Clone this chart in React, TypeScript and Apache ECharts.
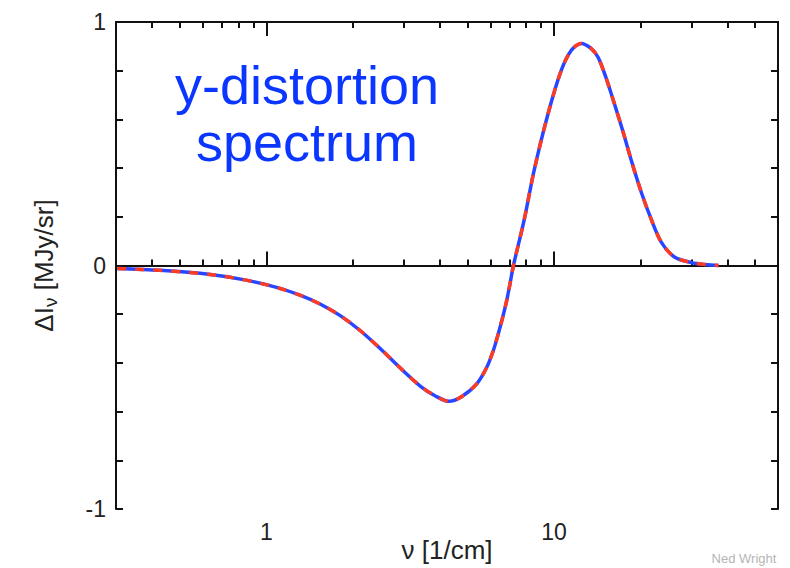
import React, { useEffect, useRef } from "react";
import * as echarts from "echarts";

// frequency nu [1/cm] and intensity change dI [MJy/sr]
const nu = [0.303, 0.427, 0.638, 0.832, 1.092, 1.314, 1.542, 1.811, 2.126, 2.496, 2.931, 3.441, 3.88, 4.307, 4.75, 5.383, 5.832, 6.148, 6.397, 6.627, 6.842, 7.025, 7.22, 7.862, 8.518, 9.531, 10.578, 11.462, 12.42, 13.46, 14.23, 15.18, 16.19, 17.39, 18.55, 20.1, 21.78, 23.6, 26.19, 30.02, 33.5, 37.27];
const dI = [-0.012, -0.02, -0.037, -0.058, -0.091, -0.123, -0.159, -0.207, -0.269, -0.343, -0.423, -0.497, -0.537, -0.558, -0.54, -0.486, -0.418, -0.349, -0.28, -0.212, -0.144, -0.075, 0.0, 0.185, 0.39, 0.624, 0.8, 0.883, 0.912, 0.891, 0.854, 0.768, 0.665, 0.546, 0.431, 0.3, 0.188, 0.095, 0.035, 0.012, 0.004, 0.0];

const majorTicksX = [1, 10];
const minorTicksX = [0.4, 0.5, 0.6, 0.7, 0.8, 0.9, 2, 3, 4, 5, 6, 7, 8, 9, 20, 30, 40, 50];
const yLabelValues = [-1, 0, 1];

const titleLines = ["y-distortion", "spectrum"];
const credit = "Ned Wright";

const FONT = "'Liberation Sans', Arial, Helvetica, sans-serif";

export default function App() {
  const ref = useRef<HTMLDivElement>(null);
  useEffect(() => {
    if (!ref.current) return;
    const chart = echarts.init(ref.current, null, { renderer: "svg" });
    const points = nu.map((x, i) => [x, dI[i]]);
    const xBase = {
      type: "log" as const,
      min: 0.3,
      max: 60,
      gridIndex: 0,
      splitLine: { show: false },
      axisLine: { show: true, lineStyle: { color: "#111", width: 2 } },
    };
    const option: any = {
      animation: false,
      backgroundColor: "#fff",
      textStyle: { fontFamily: FONT },
      grid: { left: 116, right: 12, top: 22, bottom: 59, show: false, containLabel: false, outerBoundsMode: "none" },
      xAxis: [
        {
          ...xBase,
          position: "bottom",
          axisTick: { show: true, inside: true, length: 14, customValues: majorTicksX, lineStyle: { color: "#111", width: 2 } },
          axisLabel: { show: true, customValues: majorTicksX, fontSize: 23, color: "#222", margin: 11, fontFamily: FONT },
          name: "ν [1/cm]",
          nameLocation: "middle",
          nameGap: 28,
          nameMoveOverlap: false,
          nameTextStyle: { fontSize: 26, color: "#222", fontFamily: FONT },
        },
        {
          ...xBase,
          position: "bottom",
          axisTick: { show: true, inside: true, length: 6, customValues: minorTicksX, lineStyle: { color: "#111", width: 2 } },
          axisLabel: { show: false },
        },
        {
          ...xBase,
          position: "top",
          axisTick: { show: true, inside: true, length: 14, customValues: majorTicksX, lineStyle: { color: "#111", width: 2 } },
          axisLabel: { show: false },
        },
        {
          ...xBase,
          position: "top",
          axisTick: { show: true, inside: true, length: 6, customValues: minorTicksX, lineStyle: { color: "#111", width: 2 } },
          axisLabel: { show: false },
        },
      ],
      yAxis: [
        {
          type: "value",
          min: -1,
          max: 1,
          interval: 0.2,
          position: "left",
          splitLine: { show: false },
          axisLine: { show: true, lineStyle: { color: "#111", width: 2 } },
          axisTick: { show: true, inside: true, length: 7, lineStyle: { color: "#111", width: 2 } },
          axisLabel: { show: true, customValues: yLabelValues, fontSize: 23, color: "#222", margin: 10, fontFamily: FONT },
          name: "{a|ΔI}{b|ν}{a| [MJy/sr]}",
          nameLocation: "middle",
          nameGap: 56,
          nameRotate: 90,
          nameMoveOverlap: false,
          nameTextStyle: {
            color: "#222",
            fontFamily: FONT,
            rich: {
              a: { fontSize: 26, color: "#222", fontFamily: FONT, lineHeight: 32 },
              b: { fontSize: 19, color: "#222", fontFamily: FONT, lineHeight: 19, verticalAlign: "bottom" },
            },
          },
        },
        {
          type: "value",
          min: -1,
          max: 1,
          interval: 0.2,
          position: "right",
          splitLine: { show: false },
          axisLine: { show: true, lineStyle: { color: "#111", width: 2 } },
          axisTick: { show: true, inside: true, length: 7, lineStyle: { color: "#111", width: 2 } },
          axisLabel: { show: false },
        },
      ],
      series: [
        {
          type: "line",
          xAxisIndex: 0,
          yAxisIndex: 0,
          data: points,
          smooth: 0.3,
          showSymbol: false,
          symbol: "none",
          lineStyle: { color: "#2a45ff", width: 3.5, type: "solid" },
          z: 3,
          markLine: {
            silent: true,
            symbol: "none",
            label: { show: false },
            lineStyle: { color: "#111", width: 2, type: "solid" },
            data: [{ yAxis: 0 }],
            z: 2,
          },
        },
        {
          type: "line",
          xAxisIndex: 0,
          yAxisIndex: 0,
          data: points,
          smooth: 0.3,
          showSymbol: false,
          symbol: "none",
          lineStyle: { color: "#ff3b22", width: 3.5, type: [9, 9] },
          z: 4,
        },
      ],
      graphic: [
        {
          type: "text",
          x: 307,
          y: 85,
          style: { text: titleLines[0], fontSize: 54, fill: "#0a36ff", fontFamily: FONT, align: "center", verticalAlign: "middle" },
        },
        {
          type: "text",
          x: 307,
          y: 142,
          style: { text: titleLines[1], fontSize: 54, fill: "#0a36ff", fontFamily: FONT, align: "center", verticalAlign: "middle" },
        },
        {
          type: "text",
          x: 744,
          y: 558,
          style: { text: credit, fontSize: 13, fill: "#b5b5b5", fontFamily: FONT, align: "center", verticalAlign: "middle" },
        },
      ],
    };
    chart.setOption(option);
    return () => chart.dispose();
  }, []);
  return (
    <div
      ref={ref}
      style={{ position: "fixed", left: 0, top: 0, width: 790, height: 568, background: "#fff" }}
    />
  );
}
